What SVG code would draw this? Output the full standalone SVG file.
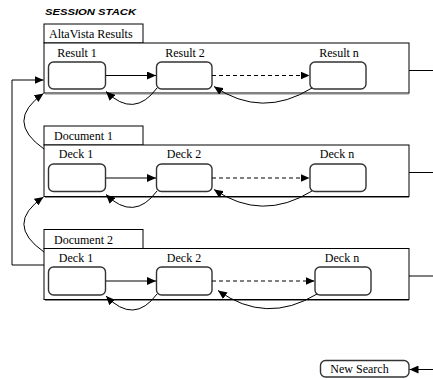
<svg xmlns="http://www.w3.org/2000/svg" width="433" height="380" viewBox="0 0 433 380">
  <style>
    .frame { fill: #fff; stroke: #000; stroke-width: 1; }
    .shade { fill: none; stroke: #888; stroke-width: 1; }
    .node { fill: #fff; stroke: #333; stroke-width: 1.4; }
    .lbl { font-family: "Liberation Serif", "Times New Roman", serif; font-size: 12px; fill: #000; }
    .mid { text-anchor: middle; }
    .edge { fill: none; stroke: #000; stroke-width: 1; }
    .dash { stroke-dasharray: 4 3; }
    .title { font-family: "Liberation Sans", Arial, sans-serif; font-size: 9.5px; font-weight: bold; font-style: italic; fill: #000; }
  </style>
  <defs>
    <marker id="arr" markerUnits="userSpaceOnUse" markerWidth="10" markerHeight="8" refX="9" refY="4" orient="auto">
      <path d="M0,0 L9,4 L0,8 Z" fill="#000"/>
    </marker>
  </defs>

  <text class="title" x="45" y="15" textLength="91" lengthAdjust="spacingAndGlyphs">SESSION STACK</text>

  <!-- Stack frame 1: AltaVista Results -->
  <g id="altavista">
    <rect class="frame" x="44" y="24" width="99" height="19"/>
    <text class="lbl" x="49" y="38">AltaVista Results</text>
    <rect class="frame" x="44" y="43" width="365" height="50"/>
    <line class="shade" x1="45" y1="94" x2="409" y2="94"/>
  </g>
  <g id="result1">
    <rect class="node" x="48.5" y="62" width="57" height="27" rx="5"/>
    <text class="lbl mid" x="77" y="57">Result 1</text>
  </g>
  <g id="result2">
    <rect class="node" x="156.5" y="62" width="55.5" height="27" rx="5"/>
    <text class="lbl mid" x="185" y="57">Result 2</text>
  </g>
  <g id="resultn">
    <rect class="node" x="310" y="62" width="56" height="27" rx="5"/>
    <text class="lbl mid" x="339" y="57">Result n</text>
  </g>

  <!-- Stack frame 2: Document 1 -->
  <g id="document1">
    <rect class="frame" x="44" y="126" width="99" height="19"/>
    <text class="lbl" x="54" y="140">Document 1</text>
    <rect class="frame" x="44" y="145" width="365" height="51.5"/>
    <line class="shade" x1="45" y1="197.5" x2="409" y2="197.5"/>
  </g>
  <g id="doc1-deck1">
    <rect class="node" x="48.5" y="164" width="57" height="27.5" rx="5"/>
    <text class="lbl mid" x="76" y="158">Deck 1</text>
  </g>
  <g id="doc1-deck2">
    <rect class="node" x="156.5" y="164" width="55.5" height="27.5" rx="5"/>
    <text class="lbl mid" x="184" y="158">Deck 2</text>
  </g>
  <g id="doc1-deckn">
    <rect class="node" x="310" y="164" width="56" height="27.5" rx="5"/>
    <text class="lbl mid" x="337" y="158">Deck n</text>
  </g>

  <!-- Stack frame 3: Document 2 -->
  <g id="document2">
    <rect class="frame" x="44" y="229.5" width="99" height="19"/>
    <text class="lbl" x="54" y="243.5">Document 2</text>
    <rect class="frame" x="44" y="248.5" width="365" height="51"/>
    <line class="shade" x1="45" y1="300.5" x2="409" y2="300.5"/>
  </g>
  <g id="doc2-deck1">
    <rect class="node" x="48.5" y="267" width="57" height="28" rx="5"/>
    <text class="lbl mid" x="76" y="261.5">Deck 1</text>
  </g>
  <g id="doc2-deck2">
    <rect class="node" x="156.5" y="267" width="55.5" height="28" rx="5"/>
    <text class="lbl mid" x="184" y="261.5">Deck 2</text>
  </g>
  <g id="doc2-deckn">
    <rect class="node" x="315" y="267" width="56" height="28" rx="5"/>
    <text class="lbl mid" x="342" y="261.5">Deck n</text>
  </g>

  <g id="new-search">
    <rect class="node" x="320.5" y="360.5" width="88.5" height="16.5" rx="5"/>
    <text class="lbl mid" x="359.5" y="373">New Search</text>
  </g>

  <g id="connectors">
    <!-- forward links -->
    <line class="edge" x1="106" y1="75.5" x2="156" y2="75.5" marker-end="url(#arr)"/>
    <line class="edge dash" x1="212" y1="75.5" x2="309.5" y2="75.5" marker-end="url(#arr)"/>
    <line class="edge" x1="106" y1="178" x2="156" y2="178" marker-end="url(#arr)"/>
    <line class="edge dash" x1="212" y1="178" x2="309.5" y2="178" marker-end="url(#arr)"/>
    <line class="edge" x1="106" y1="281" x2="156" y2="281" marker-end="url(#arr)"/>
    <line class="edge dash" x1="212" y1="281" x2="314.5" y2="281" marker-end="url(#arr)"/>

    <!-- back links -->
    <path class="edge" d="M157,88 Q134,119 106,91.5" marker-end="url(#arr)"/>
    <path class="edge" d="M312,88 Q262,119 214,86.5" marker-end="url(#arr)"/>
    <path class="edge" d="M157,191 Q134,222 106,194.5" marker-end="url(#arr)"/>
    <path class="edge" d="M312,191 Q262,222 214,189.5" marker-end="url(#arr)"/>
    <path class="edge" d="M157,294 Q134,325 106,296" marker-end="url(#arr)"/>
    <path class="edge" d="M317,294 Q266,325 218,290.5" marker-end="url(#arr)"/>

    <!-- pops between frames -->
    <path class="edge" d="M44,149 Q4,121 43.5,93.5" marker-end="url(#arr)"/>
    <path class="edge" d="M44,252 Q4,224 43.5,197" marker-end="url(#arr)"/>

    <!-- return to the top frame -->
    <polyline class="edge" points="44,265 12,265 12,80 43.5,80" marker-end="url(#arr)"/>

    <!-- outgoing lines on the right -->
    <line class="edge" x1="409" y1="70.5" x2="433" y2="70.5"/>
    <line class="edge" x1="409" y1="172.5" x2="433" y2="172.5"/>
    <line class="edge" x1="409" y1="276" x2="433" y2="276"/>

    <line class="edge" x1="433" y1="369.5" x2="409.5" y2="369.5" marker-end="url(#arr)"/>
  </g>
</svg>
